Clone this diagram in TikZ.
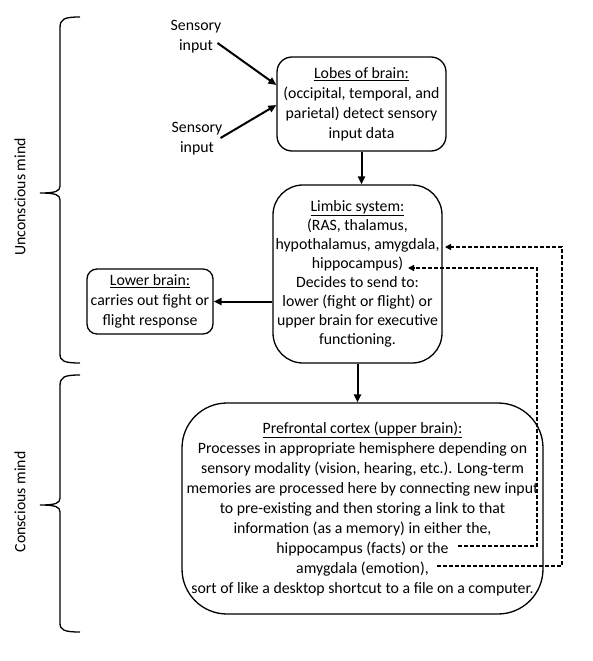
\documentclass[tikz,border=0pt]{standalone}
\usepackage{fontspec}
\setmainfont{Carlito}
\usetikzlibrary{arrows.meta}
\tikzset{
  txt/.style={font=\fontsize{15.8}{20}\selectfont, align=center, inner sep=0pt},
  box/.style={draw, line width=1.3pt, font=\fontsize{15.8}{20}\selectfont, align=center, inner sep=0pt},
  arr/.style={line width=2pt, -{Triangle[length=8pt,width=7pt]}},
  dsh/.style={line width=1.4pt, dash pattern=on 4pt off 2pt, -{Triangle[length=6pt,width=6pt]}},
  brace/.style={line width=1.3pt},
}
\begin{document}
\begin{tikzpicture}[x=1pt,y=-1pt]
\useasboundingbox (0,0) rectangle (592,661);
% braces
\draw[brace] (80,17) .. controls (64,17) and (60,19) .. (60,28) -- (60,186)
  .. controls (60,191) and (56,193) .. (40,193)
  .. controls (56,193) and (60,195) .. (60,200) -- (60,354)
  .. controls (60,361) and (64,363) .. (80,363);
\draw[brace] (80,375) .. controls (64,375) and (60,377) .. (60,386) -- (60,498)
  .. controls (60,503) and (56,505) .. (40,505)
  .. controls (56,505) and (60,507) .. (60,512) -- (60,623)
  .. controls (60,630) and (64,632) .. (80,632);
\node[txt, rotate=90] (uncon) at (20,197) {Unconscious mind};
\node[txt, rotate=90] (con) at (20,502) {Conscious mind};
% sensory inputs
\node[txt] (s1) at (196,37) {Sensory\\input};
\node[txt] (s2) at (197,139) {Sensory\\input};
% boxes
\node[box, rounded corners=15pt, minimum width=169pt, minimum height=94pt] (lobes) at (361.5,104)
  {\underline{Lobes of brain:}\\(occipital, temporal, and\\parietal) detect sensory\\input data};
\node[box, rounded corners=30pt, minimum width=169pt, minimum height=178pt,
  font=\fontsize{15.8}{19}\selectfont] (limbic) at (357.5,274)
  {\underline{Limbic system:}\\(RAS, thalamus,\\hypothalamus, amygdala,\\hippocampus)\\Decides to send to:\\lower (fight or flight) or\\upper brain for executive\\functioning.};
\node[box, rounded corners=10pt, minimum width=126pt, minimum height=65pt] (lower) at (150,301.5)
  {\underline{Lower brain:}\\carries out fight or\\flight response};
\node[box, rounded corners=45pt, minimum width=361pt, minimum height=211pt] (pref) at (362.5,508.5)
  {\underline{Prefrontal cortex (upper brain):}\\Processes in appropriate hemisphere depending on\\sensory modality (vision, hearing, etc.). Long-term\\memories are processed here by connecting new input\\to pre-existing and then storing a link to that\\information (as a memory) in either the,\\hippocampus (facts) or the\\amygdala (emotion),\\sort of like a desktop shortcut to a file on a computer.};
% solid arrows
\draw[arr] ([xshift=-4pt,yshift=-6pt]s1.east) -- ([yshift=19pt]lobes.west);
\draw[arr] ([xshift=-2pt,yshift=1pt]s2.east) -- ([yshift=-1pt]lobes.west);
\draw[arr] (lobes.south) -- (lobes.south |- limbic.north);
\draw[arr] (limbic.west |- lower.east) -- (lower.east);
\draw[arr] (limbic.south) -- (limbic.south |- pref.north);
% dashed feedback
\coordinate (h1) at (458,546);
\coordinate (hx) at (537,268);
\coordinate (h2) at (408,268);
\coordinate (a1) at (437,566);
\coordinate (ax) at (562,247);
\coordinate (a2) at (445,247);
\draw[dsh] (h1) -| (hx) -- (h2);
\draw[dsh] (a1) -| (ax) -- (a2);
\end{tikzpicture}
\end{document}
